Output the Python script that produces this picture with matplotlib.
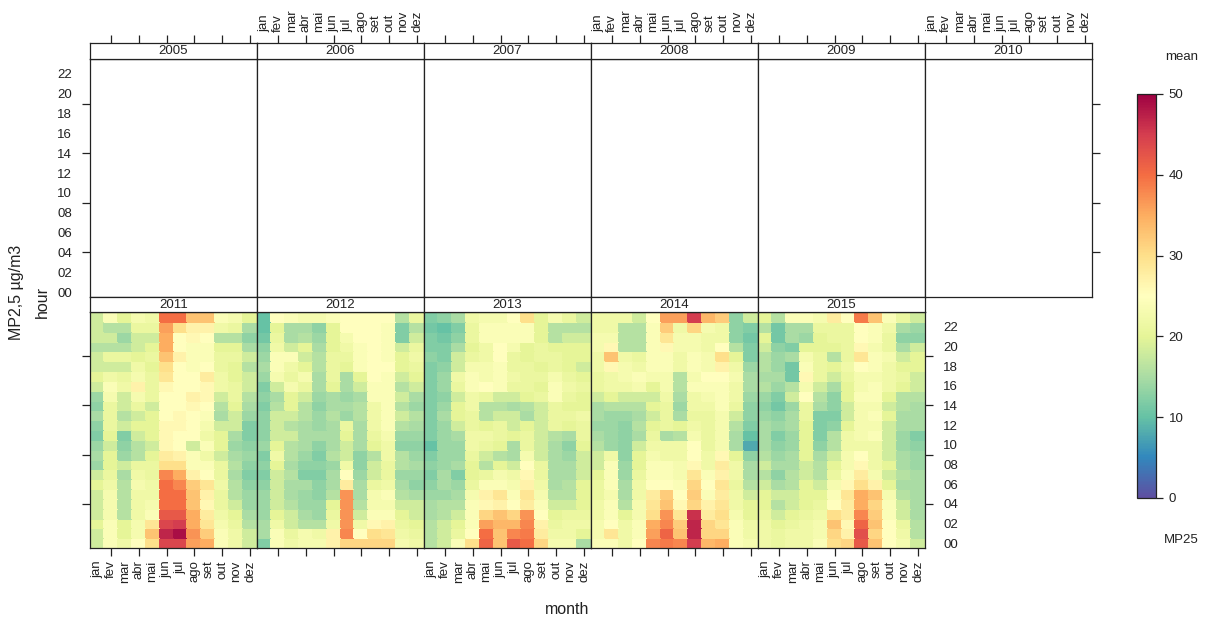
import numpy as np
import matplotlib
matplotlib.use("Agg")
import matplotlib.pyplot as plt
from matplotlib.colors import Normalize
from matplotlib.ticker import FixedLocator, FixedFormatter, NullFormatter

plt.rcParams['font.family'] = ['Liberation Sans', 'DejaVu Sans']

# ---------------------------------------------------------------------------
# Data: mean MP2,5 (ug/m3) per month (columns jan..dez) and hour of day.
# Each grid lists rows from hour 23 (top) down to hour 0 (bottom).
# ---------------------------------------------------------------------------
months = ["jan", "fev", "mar", "abr", "mai", "jun",
          "jul", "ago", "set", "out", "nov", "dez"]
hour_labels = ["00", "02", "04", "06", "08", "10",
               "12", "14", "16", "18", "20", "22"]
years_top = [2005, 2006, 2007, 2008, 2009, 2010]
years_bottom = [2011, 2012, 2013, 2014, 2015]

mp25_2011 = [
    [18, 24, 20, 23, 22, 40, 40, 33, 33, 24, 23, 20],
    [18, 16, 16, 21, 21, 36, 30, 27, 27, 22, 21, 15],
    [18, 18, 14, 18, 18, 35, 25, 26, 25, 16, 16, 13],
    [16, 16, 16, 18, 20, 35, 25, 24, 24, 20, 20, 15],
    [18, 21, 21, 20, 21, 33, 27, 24, 24, 21, 21, 18],
    [18, 18, 18, 22, 20, 30, 25, 24, 25, 21, 20, 16],
    [20, 22, 21, 23, 21, 29, 25, 25, 28, 22, 20, 18],
    [18, 24, 22, 27, 21, 26, 25, 25, 26, 22, 21, 18],
    [14, 23, 18, 23, 21, 25, 25, 27, 26, 18, 21, 16],
    [13, 21, 18, 21, 18, 25, 25, 26, 25, 16, 20, 15],
    [15, 21, 16, 18, 20, 25, 26, 25, 24, 15, 18, 14],
    [13, 21, 18, 20, 20, 26, 26, 25, 23, 18, 18, 12],
    [12, 20, 12, 18, 20, 26, 25, 25, 22, 20, 15, 12],
    [14, 18, 13, 16, 18, 26, 25, 18, 24, 20, 14, 13],
    [15, 20, 14, 16, 20, 28, 27, 24, 22, 18, 15, 14],
    [14, 20, 18, 21, 21, 30, 30, 24, 24, 21, 16, 13],
    [18, 21, 15, 22, 21, 38, 35, 27, 25, 21, 15, 12],
    [20, 22, 16, 23, 22, 40, 38, 32, 29, 22, 16, 13],
    [18, 23, 16, 22, 22, 40, 40, 33, 27, 21, 16, 14],
    [18, 23, 16, 22, 23, 40, 40, 33, 26, 21, 18, 14],
    [18, 23, 16, 22, 24, 42, 42, 35, 28, 22, 20, 15],
    [20, 24, 20, 23, 29, 44, 45, 35, 29, 23, 21, 16],
    [18, 24, 20, 23, 33, 47, 49, 37, 32, 24, 22, 18],
    [18, 24, 22, 25, 30, 44, 44, 36, 35, 24, 22, 18],
]

mp25_2012 = [
    [10, 25, 24, 23, 23, 24, 25, 25, 25, 25, 16, 21],
    [10, 20, 15, 15, 13, 20, 25, 25, 25, 24, 12, 16],
    [11, 21, 15, 16, 14, 20, 23, 25, 25, 24, 12, 18],
    [13, 22, 18, 20, 15, 20, 22, 24, 25, 24, 18, 21],
    [14, 24, 24, 18, 16, 21, 21, 24, 25, 24, 20, 22],
    [15, 24, 22, 20, 16, 21, 20, 24, 25, 25, 20, 21],
    [14, 23, 21, 23, 15, 21, 15, 20, 25, 24, 18, 20],
    [12, 18, 23, 21, 15, 20, 15, 18, 24, 24, 16, 18],
    [13, 15, 20, 18, 14, 15, 14, 15, 24, 24, 18, 15],
    [12, 16, 20, 16, 13, 15, 15, 16, 22, 24, 16, 14],
    [13, 18, 18, 16, 14, 16, 14, 16, 22, 24, 18, 16],
    [13, 18, 16, 15, 14, 15, 21, 15, 22, 24, 16, 15],
    [13, 18, 18, 15, 15, 15, 20, 15, 21, 23, 14, 14],
    [14, 20, 16, 15, 13, 15, 18, 15, 20, 22, 13, 13],
    [12, 22, 16, 14, 12, 16, 18, 13, 16, 22, 16, 14],
    [13, 20, 15, 13, 13, 14, 22, 13, 18, 21, 16, 15],
    [12, 18, 16, 12, 12, 15, 25, 14, 18, 21, 14, 14],
    [13, 18, 15, 15, 13, 15, 28, 15, 21, 22, 15, 13],
    [14, 18, 15, 14, 13, 16, 37, 15, 23, 24, 16, 15],
    [14, 18, 16, 14, 14, 20, 37, 16, 23, 23, 18, 18],
    [14, 20, 18, 15, 14, 21, 37, 18, 24, 24, 20, 18],
    [15, 22, 18, 16, 16, 22, 37, 22, 26, 27, 21, 20],
    [15, 24, 21, 23, 22, 27, 38, 25, 30, 29, 22, 21],
    [12, 24, 22, 23, 23, 27, 31, 31, 31, 31, 23, 22],
]

mp25_2013 = [
    [12, 13, 15, 22, 23, 23, 25, 30, 20, 23, 21, 18],
    [11, 10, 12, 21, 24, 24, 24, 24, 20, 16, 16, 16],
    [12, 11, 13, 21, 24, 24, 24, 24, 20, 16, 18, 18],
    [12, 12, 15, 20, 22, 25, 23, 20, 21, 20, 20, 20],
    [13, 12, 18, 21, 22, 25, 21, 20, 21, 21, 20, 20],
    [12, 13, 18, 23, 23, 24, 21, 21, 20, 21, 20, 18],
    [12, 14, 22, 24, 23, 24, 22, 21, 21, 23, 21, 20],
    [12, 14, 21, 24, 25, 24, 21, 21, 20, 24, 22, 21],
    [12, 13, 18, 22, 21, 18, 18, 20, 21, 24, 21, 20],
    [12, 14, 20, 22, 16, 16, 15, 16, 18, 21, 20, 20],
    [12, 15, 20, 21, 16, 18, 18, 15, 18, 21, 21, 22],
    [12, 14, 18, 21, 20, 21, 18, 20, 18, 21, 20, 21],
    [12, 14, 15, 22, 22, 21, 20, 21, 18, 16, 15, 21],
    [10, 14, 14, 22, 21, 20, 15, 21, 18, 15, 13, 20],
    [12, 14, 14, 21, 18, 16, 15, 23, 18, 15, 14, 18],
    [13, 14, 15, 20, 16, 20, 18, 25, 21, 15, 15, 18],
    [12, 15, 12, 20, 21, 23, 22, 26, 21, 15, 15, 18],
    [13, 15, 14, 21, 24, 24, 23, 27, 22, 15, 16, 20],
    [14, 14, 15, 23, 27, 29, 24, 29, 23, 16, 16, 20],
    [15, 16, 16, 24, 26, 27, 25, 28, 24, 18, 18, 20],
    [15, 16, 18, 24, 31, 33, 31, 37, 25, 20, 21, 21],
    [16, 18, 20, 24, 36, 34, 34, 38, 27, 21, 22, 22],
    [16, 18, 21, 25, 40, 33, 38, 39, 28, 22, 22, 20],
    [16, 18, 24, 30, 41, 33, 42, 40, 31, 23, 23, 15],
]

mp25_2014 = [
    [22, 22, 22, 18, 25, 36, 36, 45, 34, 32, 13, 18],
    [22, 22, 16, 16, 24, 32, 22, 31, 23, 22, 13, 12],
    [23, 23, 16, 16, 24, 29, 23, 23, 22, 22, 13, 11],
    [23, 26, 16, 16, 24, 26, 23, 23, 22, 25, 16, 12],
    [22, 33, 22, 21, 24, 24, 22, 24, 23, 30, 20, 12],
    [22, 26, 23, 22, 24, 24, 22, 24, 23, 27, 22, 14],
    [21, 22, 23, 24, 23, 23, 16, 23, 25, 25, 23, 15],
    [21, 22, 22, 23, 20, 23, 16, 24, 24, 24, 22, 15],
    [18, 20, 18, 18, 18, 22, 15, 22, 23, 24, 22, 14],
    [15, 16, 16, 16, 20, 21, 14, 22, 22, 24, 21, 13],
    [15, 14, 14, 15, 18, 21, 15, 21, 21, 23, 18, 13],
    [14, 14, 13, 16, 20, 21, 20, 22, 21, 23, 16, 12],
    [15, 14, 13, 15, 21, 15, 16, 23, 21, 23, 15, 10],
    [16, 14, 13, 18, 22, 22, 22, 25, 21, 23, 15, 8],
    [18, 22, 13, 20, 23, 22, 22, 25, 22, 26, 20, 13],
    [18, 24, 14, 20, 24, 24, 23, 26, 22, 28, 22, 15],
    [20, 24, 14, 21, 24, 24, 23, 29, 24, 27, 22, 15],
    [21, 24, 15, 22, 25, 25, 24, 31, 25, 29, 21, 16],
    [21, 23, 15, 22, 28, 32, 25, 32, 24, 28, 22, 18],
    [22, 24, 16, 23, 29, 33, 26, 31, 27, 29, 22, 20],
    [22, 24, 20, 23, 30, 37, 29, 46, 28, 30, 23, 20],
    [23, 25, 22, 24, 35, 38, 32, 47, 31, 29, 24, 22],
    [23, 29, 22, 24, 36, 41, 33, 47, 31, 31, 24, 22],
    [24, 24, 22, 25, 38, 39, 38, 45, 34, 35, 24, 23],
]

mp25_2015 = [
    [20, 16, 24, 24, 23, 28, 25, 39, 33, 24, 21, 18],
    [16, 11, 15, 15, 21, 21, 21, 25, 24, 22, 15, 14],
    [20, 11, 15, 14, 20, 21, 21, 25, 24, 21, 13, 13],
    [18, 13, 12, 20, 20, 20, 21, 26, 23, 21, 15, 18],
    [16, 14, 15, 23, 21, 16, 21, 29, 24, 23, 18, 20],
    [16, 14, 11, 24, 21, 20, 22, 25, 24, 22, 20, 20],
    [15, 15, 11, 26, 21, 18, 21, 23, 23, 22, 21, 18],
    [16, 14, 16, 23, 18, 15, 20, 23, 24, 22, 20, 18],
    [14, 12, 18, 25, 16, 13, 20, 24, 24, 20, 16, 16],
    [13, 11, 14, 21, 15, 13, 18, 23, 23, 18, 16, 15],
    [14, 13, 15, 21, 12, 12, 18, 23, 24, 20, 15, 15],
    [15, 14, 15, 20, 12, 13, 20, 23, 23, 18, 15, 15],
    [15, 12, 14, 20, 12, 16, 22, 23, 24, 18, 14, 12],
    [15, 13, 14, 20, 13, 16, 22, 22, 22, 18, 14, 13],
    [16, 14, 15, 20, 15, 18, 23, 25, 22, 18, 15, 14],
    [18, 15, 15, 18, 16, 20, 23, 26, 22, 20, 15, 14],
    [16, 13, 16, 18, 16, 21, 24, 28, 23, 18, 16, 15],
    [18, 15, 16, 20, 18, 23, 26, 30, 27, 20, 15, 15],
    [20, 18, 18, 20, 20, 24, 29, 35, 33, 23, 16, 15],
    [20, 16, 18, 20, 21, 25, 28, 35, 31, 24, 18, 15],
    [21, 18, 20, 21, 22, 30, 28, 38, 32, 24, 18, 15],
    [22, 20, 21, 22, 23, 33, 26, 41, 33, 25, 21, 16],
    [22, 21, 22, 22, 23, 31, 27, 43, 31, 25, 22, 16],
    [22, 21, 22, 22, 24, 30, 31, 42, 33, 25, 23, 18],
]

grids = {2011: mp25_2011, 2012: mp25_2012, 2013: mp25_2013,
         2014: mp25_2014, 2015: mp25_2015}

# ---------------------------------------------------------------------------
W, H = 1208, 619
fig = plt.figure(figsize=(W / 100, H / 100), dpi=100)
fig.patch.set_facecolor("white")


def add_ax(x0, y0, x1, y1):
    """Axes placed by pixel box (left, top, right, bottom)."""
    return fig.add_axes([x0 / W, 1 - y1 / H, (x1 - x0) / W, (y1 - y0) / H])


cmap = plt.get_cmap("Spectral_r")
norm = Normalize(vmin=0, vmax=50)

col_edges = [90, 257, 424, 591, 758, 925, 1092]
top_strip = (43, 59)
top_panel = (59, 297)
bot_strip = (297, 312)
bot_panel = (312, 548)

month_pos = np.arange(1, 13)
month_ticks = [2, 4, 6, 8, 10, 12]
hour_pos = np.arange(0, 24, 2)
hour_ticks = [4, 9, 14, 19]

LW = 0.9
TICK_FS = 9.5
FG = "#222222"


def style_box(ax):
    for s in ax.spines.values():
        s.set_linewidth(LW)
        s.set_color(FG)
    ax.set_xlim(0.5, 12.5)
    ax.tick_params(which="both", left=False, right=False, top=False,
                   bottom=False, labelleft=False, labelright=False,
                   labeltop=False, labelbottom=False, direction="out",
                   colors=FG, labelcolor=FG)
    ax.tick_params(which="major", length=0)
    ax.tick_params(which="minor", length=6, width=LW)


def month_axis(ax):
    ax.xaxis.remove_overlapping_locs = False
    ax.xaxis.set_major_locator(FixedLocator(month_pos))
    ax.xaxis.set_major_formatter(FixedFormatter(months))
    ax.xaxis.set_minor_locator(FixedLocator(month_ticks))
    ax.xaxis.set_minor_formatter(NullFormatter())


def hour_axis(ax):
    ax.set_ylim(-0.5, 23.5)
    ax.yaxis.remove_overlapping_locs = False
    ax.yaxis.set_major_locator(FixedLocator(hour_pos))
    ax.yaxis.set_major_formatter(FixedFormatter(hour_labels))
    ax.yaxis.set_minor_locator(FixedLocator(hour_ticks))
    ax.yaxis.set_minor_formatter(NullFormatter())


def strip(x0, x1, ys, year, top_axis, labelled):
    sa = add_ax(x0, ys[0], x1, ys[1])
    style_box(sa)
    sa.set_yticks([])
    month_axis(sa)
    sa.text(0.5, 0.5, str(year), transform=sa.transAxes, ha="center",
            va="center", fontsize=TICK_FS, color=FG)
    if top_axis:
        sa.tick_params(axis="x", which="minor", top=True)
        if labelled:
            sa.tick_params(axis="x", which="major", labeltop=True, pad=8,
                           labelsize=TICK_FS, labelrotation=90)
    return sa


month_edges = np.arange(0.5, 13.0, 1.0)
hour_edges = np.arange(-0.5, 24.0, 1.0)

# Top row: 2005-2010, no observations
for i, yr in enumerate(years_top):
    x0, x1 = col_edges[i], col_edges[i + 1]
    ax = add_ax(x0, top_panel[0], x1, top_panel[1])
    style_box(ax)
    month_axis(ax)
    hour_axis(ax)
    if i == 0:
        ax.tick_params(axis="y", which="minor", left=True)
        ax.tick_params(axis="y", which="major", labelleft=True, pad=13,
                       labelsize=TICK_FS)
    if i == len(years_top) - 1:
        ax.tick_params(axis="y", which="minor", right=True)
    strip(x0, x1, top_strip, yr, top_axis=True, labelled=(i % 2 == 1))

# Bottom row: 2011-2015 heat maps
for i, yr in enumerate(years_bottom):
    x0, x1 = col_edges[i], col_edges[i + 1]
    ax = add_ax(x0, bot_panel[0], x1, bot_panel[1])
    style_box(ax)
    vals = np.array(grids[yr], dtype=float)[::-1]  # row 0 -> hour 0
    ax.pcolormesh(month_edges, hour_edges, vals, cmap=cmap, norm=norm,
                  shading="flat", edgecolors="face", linewidth=0.3)
    month_axis(ax)
    hour_axis(ax)
    ax.tick_params(axis="x", which="minor", bottom=True)
    if i % 2 == 0:
        ax.tick_params(axis="x", which="major", labelbottom=True, pad=9,
                       labelsize=TICK_FS, labelrotation=90)
    if i == 0:
        ax.tick_params(axis="y", which="minor", left=True)
    if i == len(years_bottom) - 1:
        ax.tick_params(axis="y", which="minor", right=True)
        ax.tick_params(axis="y", which="major", labelright=True, pad=13,
                       labelsize=TICK_FS)
    for s in ax.spines.values():
        s.set_zorder(5)
    strip(x0, x1, bot_strip, yr, top_axis=False, labelled=False)

# Axis titles
fig.text(17 / W, 1 - 292 / H, "MP2,5 µg/m3", rotation=90, ha="center",
         va="center", fontsize=11.5, color=FG)
fig.text(42 / W, 1 - 302 / H, "hour", rotation=90, ha="center",
         va="center", fontsize=11.5, color=FG)
fig.text(567 / W, 1 - 609 / H, "month", ha="center", va="center",
         fontsize=11.5, color=FG)

# Colour key
cax = add_ax(1137, 94, 1156, 498)
sm = plt.cm.ScalarMappable(norm=norm, cmap=cmap)
cb = fig.colorbar(sm, cax=cax, ticks=[0, 10, 20, 30, 40, 50])
cb.outline.set_linewidth(LW)
cb.outline.set_edgecolor(FG)
cax.tick_params(length=5, width=LW, labelsize=TICK_FS, colors=FG, pad=4)
fig.text(1182 / W, 1 - 57 / H, "mean", ha="center", va="center",
         fontsize=TICK_FS, color=FG)
fig.text(1181 / W, 1 - 540 / H, "MP25", ha="center", va="center",
         fontsize=TICK_FS, color=FG)

fig.savefig("out.png", dpi=100, facecolor="white")
